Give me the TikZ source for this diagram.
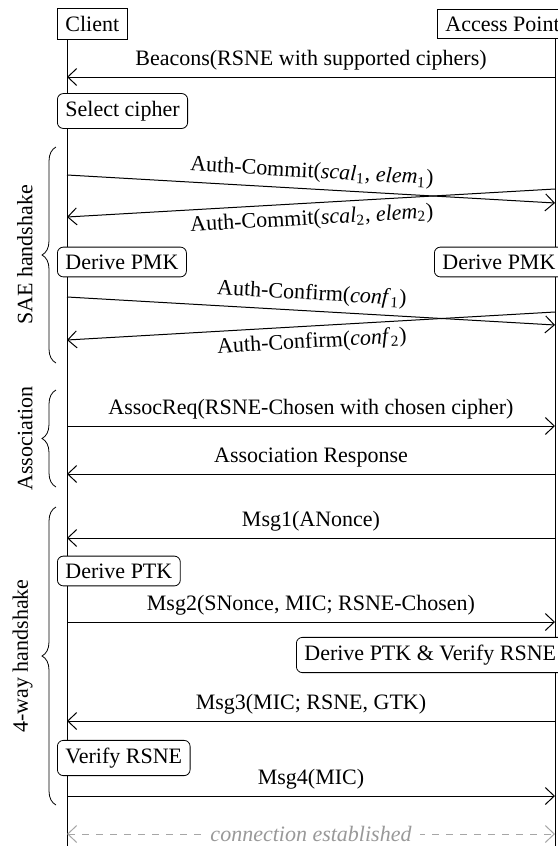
\documentclass[tikz,border=0pt]{standalone}
\usepackage{fontspec}
\setmainfont{Liberation Serif}
\usetikzlibrary{arrows.meta,decorations.pathreplacing,positioning}

\begin{document}
\begin{tikzpicture}[x=0.5pt,y=-0.5pt,%
font=\fontsize{11}{13}\selectfont,
party/.style={draw, rectangle, thin, inner xsep=4pt, inner ysep=3.75pt, anchor=west},
action/.style={draw, rounded corners=3pt, fill=white, thin, inner xsep=4pt, inner ysep=3.75pt, anchor=west},
msg/.style={draw, line width=0.5pt, -{Straight Barb[length=4.5pt,width=8.5pt]}},
msglabel/.style={draw=none, fill=none, inner sep=3pt},
conn/.style={draw, gray!70, dashed, dash pattern=on 3.5pt off 3.5pt, line width=0.5pt,
  {Straight Barb[length=4.5pt,width=8.5pt]}-{Straight Barb[length=4.5pt,width=8.5pt]}},
phase/.style={draw, thin, decorate, decoration={brace, amplitude=7pt}},
phaselabel/.style={xshift=-8.5pt, rotate=90, anchor=south, inner sep=3pt} ]

\useasboundingbox (0,0) rectangle (557,846);

% parties and lifelines
\node[party] (client) at (57,24) {Client};
\node[party] (ap) at (437,24) {Access Point};
\coordinate (cend) at (67,846);
\coordinate (aend) at (555,846);
\draw[line width=0.5pt] (client.south -| cend) -- (cend);
\draw[line width=0.5pt] (ap.south -| aend) -- (aend);

% end points of the messages
\coordinate (c-beacon) at (67,77);   \coordinate (a-beacon) at (555,77);
\coordinate (c-com1) at (67,175);    \coordinate (a-com1) at (555,203);
\coordinate (a-com2) at (555,189);   \coordinate (c-com2) at (67,217);
\coordinate (c-conf1) at (67,297);   \coordinate (a-conf1) at (555,325);
\coordinate (a-conf2) at (555,312);  \coordinate (c-conf2) at (67,340);
\coordinate (c-assoc) at (67,426);   \coordinate (a-assoc) at (555,426);
\coordinate (c-resp) at (67,474);    \coordinate (a-resp) at (555,474);
\coordinate (c-msg1) at (67,538);    \coordinate (a-msg1) at (555,538);
\coordinate (c-msg2) at (67,622);    \coordinate (a-msg2) at (555,622);
\coordinate (c-msg3) at (67,721);    \coordinate (a-msg3) at (555,721);
\coordinate (c-msg4) at (67,796);    \coordinate (a-msg4) at (555,796);
\coordinate (c-done) at (67,834);    \coordinate (a-done) at (555,834);

\draw[msg] (a-beacon) -- node[msglabel,above] (beacons) {Beacons(RSNE with supported ciphers)} (c-beacon);
\node[action] (select) at (57,111) {Select cipher};

\draw[msg] (c-com1) -- node[msglabel,above,sloped] (commit1)
  {Auth-Commit(\textit{scal}\textsubscript{1}, \textit{elem}\textsubscript{1})} (a-com1);
\draw[msg] (a-com2) -- node[msglabel,below,sloped] (commit2)
  {Auth-Commit(\textit{scal}\textsubscript{2}, \textit{elem}\textsubscript{2})} (c-com2);
\node[action] (pmkc) at (57,262) {Derive PMK};
\node[action] (pmka) at (434,262) {Derive PMK};
\draw[msg] (c-conf1) -- node[msglabel,above,sloped] (confirm1)
  {Auth-Confirm(\textit{conf\/}\textsubscript{1})} (a-conf1);
\draw[msg] (a-conf2) -- node[msglabel,below,sloped] (confirm2)
  {Auth-Confirm(\textit{conf\/}\textsubscript{2})} (c-conf2);

\draw[msg] (c-assoc) -- node[msglabel,above] (assocreq) {AssocReq(RSNE-Chosen with chosen cipher)} (a-assoc);
\draw[msg] (a-resp) -- node[msglabel,above] (assocresp) {Association Response} (c-resp);

\draw[msg] (a-msg1) -- node[msglabel,above] (msg1) {Msg1(ANonce)} (c-msg1);
\node[action] (ptkc) at (57,571) {Derive PTK};
\draw[msg] (c-msg2) -- node[msglabel,above] (msg2) {Msg2(SNonce, MIC; RSNE-Chosen)} (a-msg2);
\node[action] (ptka) at (296,655) {Derive PTK \& Verify RSNE};
\draw[msg] (a-msg3) -- node[msglabel,above] (msg3) {Msg3(MIC; RSNE, GTK)} (c-msg3);
\node[action] (verify) at (57,758) {Verify RSNE};
\draw[msg] (c-msg4) -- node[msglabel,above] (msg4) {Msg4(MIC)} (a-msg4);

\draw[conn] (c-done) -- node[fill=white, text=gray!80, inner sep=4pt, font=\fontsize{11}{13}\selectfont\itshape] (done)
  {connection established} (a-done);

% phases
\coordinate (sae-top) at (56,147);   \coordinate (sae-bot) at (56,363);
\coordinate (asc-top) at (56,390);   \coordinate (asc-bot) at (56,487);
\coordinate (four-top) at (56,507);  \coordinate (four-bot) at (56,805);
\draw[phase] (sae-bot) -- node[phaselabel] (sae) {SAE handshake} (sae-top);
\draw[phase] (asc-bot) -- node[phaselabel] (asc) {Association} (asc-top);
\draw[phase] (four-bot) -- node[phaselabel] (four) {4-way handshake} (four-top);
\end{tikzpicture}
\end{document}
